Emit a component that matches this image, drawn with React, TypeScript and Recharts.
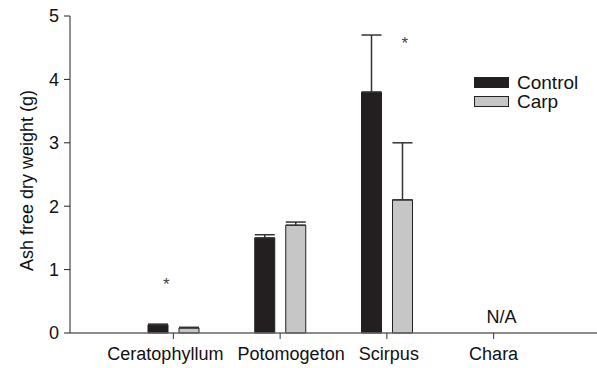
import {
  BarChart,
  Bar,
  XAxis,
  YAxis,
  ErrorBar,
  ReferenceDot,
} from "recharts";

const species = ["Ceratophyllum", "Potomogeton", "Scirpus", "Chara"];
const control = [0.13, 1.5, 3.8, null];
const controlErr = [0.01, 0.05, 0.9, null];
const carp = [0.08, 1.7, 2.1, null];
const carpErr = [0.01, 0.05, 0.9, null];

// significance marks (category, y value)
const stars = [
  { name: "Ceratophyllum", y: 0.82, dx: -7 },
  { name: "Scirpus", y: 4.62, dx: 18 },
];
const notAvailable = ["Chara"];

const yTicks = [0, 1, 2, 3, 4, 5];

// the original labels are not quite centred on their ticks
const labelShift = [-8, 11, 2, 0];

const data = species.map((name, i) => ({
  name,
  control: control[i],
  controlErr: controlErr[i] == null ? null : [0, controlErr[i]],
  carp: carp[i],
  carpErr: carpErr[i] == null ? null : [0, carpErr[i]],
}));

const font = "'Liberation Sans', Arial, Helvetica, sans-serif";

const legendItems = [
  { label: "Control", fill: "#231f20" },
  { label: "Carp", fill: "#c6c6c6" },
];

function LegendBox() {
  return (
    <div
      style={{
        position: "absolute",
        left: 474,
        top: 73,
        fontFamily: font,
        fontSize: 19,
        color: "#111",
      }}
    >
      {legendItems.map((it) => (
        <div
          key={it.label}
          style={{ display: "flex", alignItems: "center", height: 19 }}
        >
          <span
            style={{
              display: "inline-block",
              width: 33,
              height: 9,
              background: it.fill,
              border: "1px solid #222",
              marginRight: 8,
            }}
          />
          <span style={{ lineHeight: "19px" }}>{it.label}</span>
        </div>
      ))}
    </div>
  );
}

function SpeciesTick(props: any) {
  const { x, y, payload, index } = props;
  return (
    <text
      x={x + (labelShift[index] || 0)}
      y={y + 17}
      textAnchor="middle"
      fontSize={18}
      fill="#111"
      fontFamily={font}
    >
      {payload.value}
    </text>
  );
}

export default function App() {
  return (
    <div style={{ position: "absolute", left: 0, top: 0, width: 597, height: 368 }}>
      <style>{"html,body{margin:0;overflow:hidden}"}</style>
      <BarChart
        width={597}
        height={368}
        data={data}
        margin={{ top: 16, right: 0, left: 0, bottom: 0 }}
        barSize={20}
        barGap={11}
        style={{ fontFamily: font }}
      >
        <XAxis
          dataKey="name"
          height={35}
          padding={{ left: 50, right: 50 }}
          stroke="#666"
          strokeWidth={1.5}
          tickSize={6}
          tickMargin={4}
          tick={<SpeciesTick />}
          tickLine={{ stroke: "#333", strokeWidth: 1 }}
          interval={0}
        />
        <YAxis
          width={70}
          domain={[0, 5]}
          ticks={yTicks}
          stroke="#222"
          tickSize={6}
          tickMargin={5}
          tick={{ fill: "#111", fontSize: 18 }}
          label={{
            value: "Ash free dry weight (g)",
            angle: -90,
            position: "center",
            dx: -8,
            dy: 6,
            style: { fill: "#111", fontSize: 18 },
          }}
        />
        <Bar
          dataKey="control"
          name="Control"
          fill="#231f20"
          stroke="#222"
          isAnimationActive={false}
        >
          <ErrorBar
            dataKey="controlErr"
            width={10}
            stroke="#333"
            strokeWidth={1.5}
            direction="y"
          />
        </Bar>
        <Bar
          dataKey="carp"
          name="Carp"
          fill="#c6c6c6"
          stroke="#222"
          isAnimationActive={false}
        >
          <ErrorBar
            dataKey="carpErr"
            width={10}
            stroke="#333"
            strokeWidth={1.5}
            direction="y"
          />
        </Bar>
        {stars.map((s) => (
          <ReferenceDot
            key={s.name}
            x={s.name}
            y={s.y}
            r={0}
            shape={(p: any) => (
              <text
                x={p.cx + s.dx}
                y={p.cy + 9}
                textAnchor="middle"
                fontSize={17}
                fill="#444"
                fontFamily={font}
              >
                *
              </text>
            )}
          />
        ))}
        {notAvailable.map((n) => (
          <ReferenceDot
            key={n}
            x={n}
            y={0}
            r={0}
            shape={(p: any) => (
              <text
                x={p.cx + 8}
                y={p.cy - 10}
                textAnchor="middle"
                fontSize={18}
                fill="#111"
                fontFamily={font}
              >
                N/A
              </text>
            )}
          />
        ))}
      </BarChart>
      <LegendBox />
    </div>
  );
}
